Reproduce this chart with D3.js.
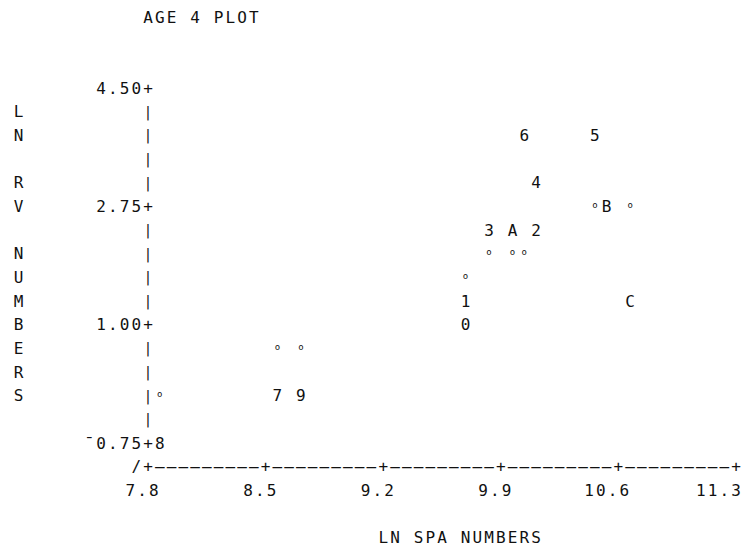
<!DOCTYPE html>
<html>
<head>
<meta charset="utf-8">
<script src="https://cdn.jsdelivr.net/npm/d3@7"></script>
<style>
  html, body { margin: 0; padding: 0; background: #fff; }
  svg { display: block; }
  text { font-family: "DejaVu Sans Mono", "Liberation Mono", monospace; fill: #111; }
</style>
</head>
<body>
<svg id="chart" width="743" height="548"></svg>
<script>
// ---- data ----
const title = "AGE 4 PLOT";
const xTitle = "LN SPA NUMBERS";
const yTitle = "LN RV NUMBERS";
const xTicks = [7.8, 8.5, 9.2, 9.9, 10.6, 11.3];
const xTickLabels = ["7.8", "8.5", "9.2", "9.9", "10.6", "11.3"];
const yTicks = [4.50, 2.75, 1.00, -0.75];
const yTickLabels = ["4.50", "2.75", "1.00", "\u00af0.75"];
const pointSymbols = ["6", "5", "4", "B", "3", "A", "2", "1", "C", "0", "7", "9", "8"];
const pointX = [10.04, 10.46, 10.11, 10.53, 9.83, 9.97, 10.11, 9.69, 10.67, 9.69, 8.57, 8.71, 7.87];
const pointY = [3.80, 3.80, 3.10, 2.75, 2.40, 2.40, 2.40, 1.35, 1.35, 1.00, -0.05, -0.05, -0.75];
const markX = [10.46, 10.67, 9.83, 9.97, 10.04, 9.69, 8.57, 8.71, 7.87];
const markY = [2.75, 2.75, 2.05, 2.05, 2.05, 1.70, 0.65, 0.65, -0.05];

// printer grid: one column = 0.07 x-units, one row = 0.35 y-units
const colStep = 0.07, rowStep = 0.35;
const xMin = 7.8, xMax = 11.3, yMin = -0.75, yMax = 4.5;

const svg = d3.select("#chart");
const x = d3.scaleLinear().domain([xMin, xMax]).range([148, 736]);
const y = d3.scaleLinear().domain([yMin, yMax]).range([443, 88]);

const colX = c => x(xMin + c * colStep);
const rowY = r => y(yMax - r * rowStep);
const FS = 16;

function putChar(ch, px, py, size) {
  svg.append("text")
    .attr("x", px).attr("y", py)
    .attr("dy", "0.36em")
    .attr("text-anchor", "middle")
    .style("font-size", (size || FS) + "px")
    .text(ch);
}
function putStr(str, col, row) {
  Array.from(str).forEach((ch, i) => {
    if (ch !== " ") putChar(ch, colX(col + i), rowY(row));
  });
}

// title
putStr(title, 0, -3);

// y axis (rows 0..15)
const nRows = Math.round((yMax - yMin) / rowStep);
d3.range(0, nRows + 1).forEach(r => {
  const isTick = yTicks.some(t => Math.abs(t - (yMax - r * rowStep)) < 1e-6);
  if (isTick) putChar("+", colX(0), rowY(r));
  else putChar("|", colX(0), rowY(r), 14);
});
yTicks.forEach((t, i) => {
  const lab = yTickLabels[i];
  Array.from(lab).forEach((ch, k) => putChar(ch, colX(-lab.length + k), y(t)));
});

// y axis title, written down the left side
Array.from(yTitle).forEach((ch, i) => {
  if (ch !== " ") putChar(ch, colX(-11), rowY(1 + i));
});

// x axis line
const axisRow = nRows + 1;
const nCols = Math.round((xMax - xMin) / colStep);
putChar("/", colX(-1), rowY(axisRow));
d3.range(0, nCols + 1).forEach(c => {
  const v = xMin + c * colStep;
  const isTick = xTicks.some(t => Math.abs(t - v) < 1e-6);
  putChar(isTick ? "+" : "\u2013", colX(c), rowY(axisRow));
});
xTicks.forEach((t, i) => {
  const lab = xTickLabels[i];
  const c = Math.round((t - xMin) / colStep);
  const endCol = Math.min(c + 0.5, nCols);
  const start = endCol - lab.length + 1;
  Array.from(lab).forEach((ch, k) => putChar(ch, colX(start + k), rowY(axisRow + 1)));
});

// x axis title
putStr(xTitle, 20, axisRow + 3);

// faint overprint marks
markX.forEach((mx, i) => {
  svg.append("text")
    .attr("x", x(mx)).attr("y", y(markY[i]))
    .attr("dy", "0.2em")
    .attr("text-anchor", "middle")
    .style("font-size", "9px")
    .text("o");
});

// plotted symbols
pointSymbols.forEach((s, i) => putChar(s, x(pointX[i]), y(pointY[i])));
</script>
</body>
</html>
